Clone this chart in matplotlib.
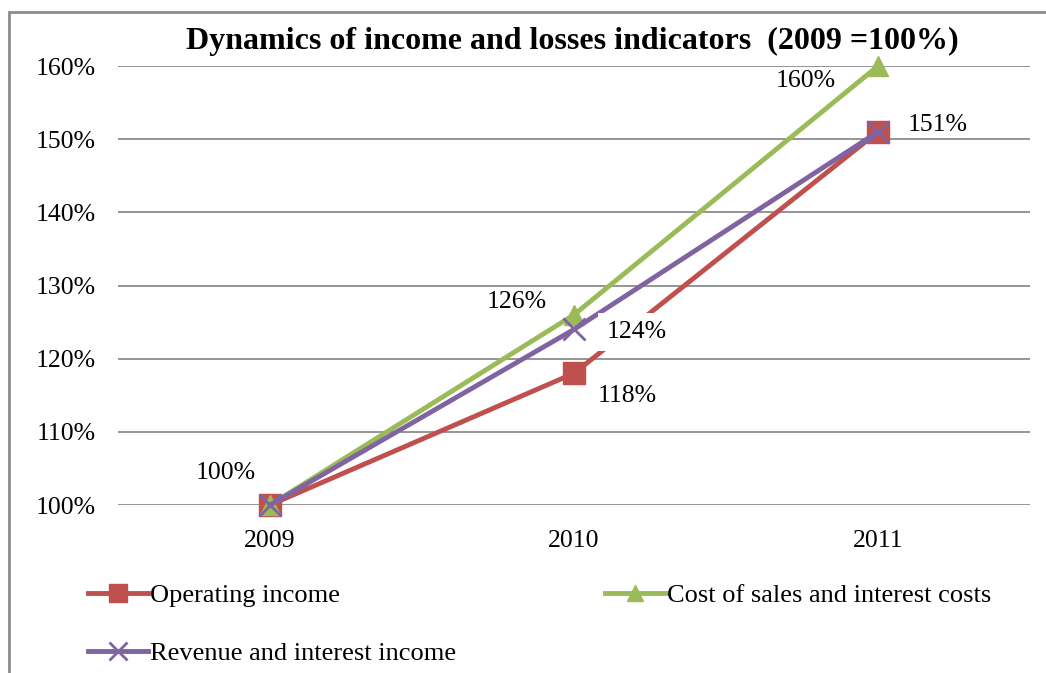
import matplotlib
matplotlib.use("Agg")
import matplotlib.pyplot as plt
from matplotlib.patches import Rectangle

years = ["2009", "2010", "2011"]
operating_income = [100, 118, 151]
cost_of_sales = [100, 126, 160]
revenue = [100, 124, 151]
y_ticks = [100, 110, 120, 130, 140, 150, 160]

plt.rcParams['font.family'] = ['Liberation Serif', 'DejaVu Serif']

fig = plt.figure(figsize=(10.46, 6.73), dpi=100)
ax = fig.add_axes([118/1046, 1-505/673, (1030-118)/1046, (505-66)/673])

# outer chart frame (only left/top edges visible in the crop)
fig.patches.append(Rectangle((9/1046, -0.1), 1.2, 1-12/673+0.1, transform=fig.transFigure,
                             fill=False, edgecolor='#8c8c8c', linewidth=2))

x = range(len(years))
red, green, purple = '#C0504D', '#9BBB59', '#8064A2'
l1, = ax.plot(x, operating_income, color=red, lw=3.5, marker='s', ms=16, label='Operating income', clip_on=False, zorder=3)
l2, = ax.plot(x, cost_of_sales, color=green, lw=3.5, marker='^', ms=15, label='Cost of sales and interest costs', clip_on=False, zorder=3)
l3, = ax.plot(x, revenue, color=purple, lw=3.5, marker='x', ms=16, mew=2, label='Revenue and interest income', clip_on=False, zorder=4)

ax.set_xlim(-0.5, 2.5)
ax.set_ylim(100, 160)
ax.set_xticks(list(x))
ax.set_xticklabels(years)
ax.set_yticks(y_ticks)
ax.set_yticklabels([f"{v}%" for v in y_ticks])
ax.tick_params(axis='both', length=0, labelsize=18.5)
ax.tick_params(axis='y', pad=16)
ax.tick_params(axis='x', pad=18)
for s in ax.spines.values():
    s.set_visible(False)
ax.grid(axis='y', color='#8c8c8c', lw=1.3)
ax.set_axisbelow(True)

ax.set_title("Dynamics of income and losses indicators  (2009 =100%)", fontsize=23,
             fontweight='bold', x=(572-118)/912, y=1.0, pad=12)

fs = 18.5
ax.annotate("100%", (0, 100), xytext=(-32, 23), textcoords='offset points', fontsize=fs, ha='center', va='center')
ax.annotate("126%", (1, cost_of_sales[1]), xytext=(-41, 9), textcoords='offset points', fontsize=fs, ha='center', va='center')
ax.annotate("124%", (1, revenue[1]), xytext=(45, -2), textcoords='offset points', fontsize=fs, ha='center', va='center',
            bbox=dict(facecolor='white', edgecolor='none', pad=6), zorder=5)
ax.annotate("118%", (1, operating_income[1]), xytext=(38, -16), textcoords='offset points', fontsize=fs, ha='center', va='center')
ax.annotate("160%", (2, cost_of_sales[2]), xytext=(-52, -11), textcoords='offset points', fontsize=fs, ha='center', va='center')
ax.annotate("151%", (2, revenue[2]), xytext=(43, 5), textcoords='offset points', fontsize=fs, ha='center', va='center')

fig.legend([l1, l3, l2], [l1.get_label(), l3.get_label(), l2.get_label()],
           loc='upper left', bbox_to_anchor=(64/1046, 1-560/673), ncol=2, frameon=False,
           fontsize=19, handlelength=2.3, handletextpad=0.05, columnspacing=5.65, labelspacing=1.3,
           markerscale=0.8)

fig.savefig("out.png", dpi=100)
